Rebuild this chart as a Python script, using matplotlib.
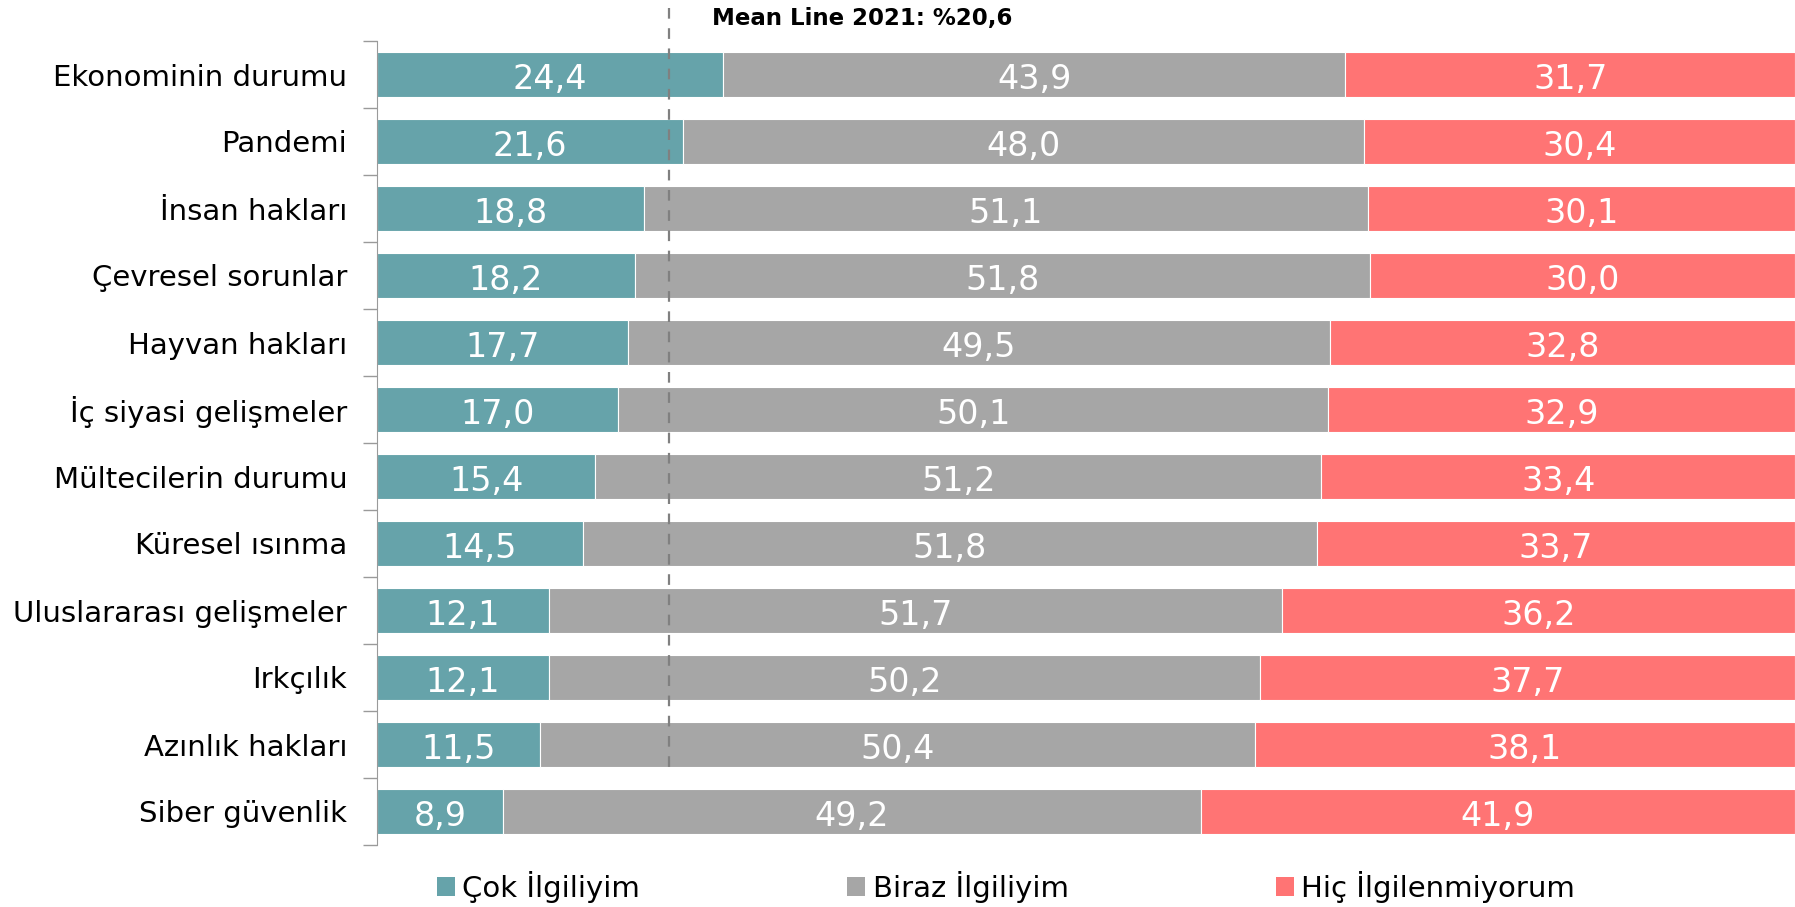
import matplotlib
matplotlib.use("Agg")
import matplotlib.pyplot as plt
from matplotlib.patches import Patch

categories = ["Ekonominin durumu", "Pandemi", "İnsan hakları", "Çevresel sorunlar",
              "Hayvan hakları", "İç siyasi gelişmeler", "Mültecilerin durumu",
              "Küresel ısınma", "Uluslararası gelişmeler", "Irkçılık",
              "Azınlık hakları", "Siber güvenlik"]
cok = [24.4, 21.6, 18.8, 18.2, 17.7, 17.0, 15.4, 14.5, 12.1, 12.1, 11.5, 8.9]
biraz = [43.9, 48.0, 51.1, 51.8, 49.5, 50.1, 51.2, 51.8, 51.7, 50.2, 50.4, 49.2]
hic = [31.7, 30.4, 30.1, 30.0, 32.8, 32.9, 33.4, 33.7, 36.2, 37.7, 38.1, 41.9]
series_names = ["Çok İlgiliyim", "Biraz İlgiliyim", "Hiç İlgilenmiyorum"]
mean_2021 = 20.6

colors = ["#66A3AA", "#A6A6A6", "#FF7474"]

fig = plt.figure(figsize=(17.95, 9.07), dpi=100)
ax = fig.add_axes([377 / 1795, 1 - 845 / 907, 1 - 377 / 1795, 804 / 907])

ypos = list(range(len(categories)))
bar_h = 0.66
left = [0] * len(categories)
for vals, col in zip([cok, biraz, hic], colors):
    ax.barh(ypos, vals, left=left, height=bar_h, color=col,
            edgecolor="white", linewidth=0.8)
    for y, l, v in zip(ypos, left, vals):
        ax.text(l + v / 2, y + 0.02, f"{v:.1f}".replace(".", ","), ha="center",
                va="center_baseline", color="white", fontsize=24)
    left = [l + v for l, v in zip(left, vals)]

ax.set_xlim(0, 100)
ax.set_ylim(len(categories) - 0.5, -0.5)

# mean line
ax.vlines(mean_2021, -1.0, len(categories) - 2 + bar_h / 2, colors="#808080",
          linewidth=1.6, linestyles=(0, (4.8, 4.3)), clip_on=False, zorder=3)
ax.text(mean_2021 + 3.0, -0.83, "Mean Line 2021: %" + str(mean_2021).replace(".", ","),
        fontsize=16.5, fontweight="bold", va="center", ha="left")

for s in ["top", "right", "bottom"]:
    ax.spines[s].set_visible(False)
ax.spines["left"].set_color("#9A9A9A")
ax.set_xticks([])
ax.set_yticks(ypos)
ax.set_yticklabels(categories, fontsize=21)
ax.tick_params(axis="y", which="major", length=0, pad=21.5)
ax.set_yticks([i - 0.5 for i in range(len(categories) + 1)], minor=True)
ax.tick_params(axis="y", which="minor", length=10, color="#9A9A9A", width=1)

handles = [Patch(facecolor=c, edgecolor="none") for c in colors]
fig.legend(handles, series_names, loc="center left",
           bbox_to_anchor=(437 / 1795, 1 - 887 / 907), ncol=3, frameon=False,
           fontsize=21, handlelength=0.62, handleheight=0.62, handletextpad=0.25,
           columnspacing=7.1, borderaxespad=0, borderpad=0)

fig.savefig("out.png", dpi=100)
